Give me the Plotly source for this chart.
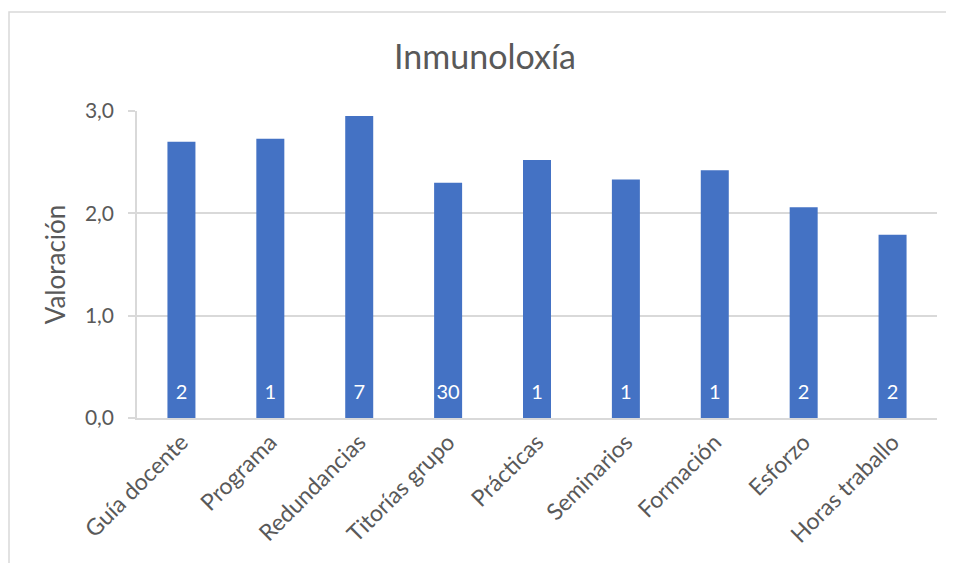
import plotly.graph_objects as go

categories = ["Guía docente", "Programa", "Redundancias", "Titorías grupo", "Prácticas",
              "Seminarios", "Formación", "Esforzo", "Horas traballo"]
valoracion = [2.70, 2.73, 2.95, 2.30, 2.52, 2.33, 2.42, 2.06, 1.79]
respostas = ["2", "1", "7", "30", "1", "1", "1", "2", "2"]
y_ticks = [0, 1, 2, 3]
y_tick_labels = ["0,0", "1,0", "2,0", "3,0"]

FONT = "Lato, Carlito, Calibri, sans-serif"
GRAY = "#595959"
LABEL_Y = 0.235  # vertical placement of the count labels near the bar base

# page body has an 8px margin: figure is drawn 8px right/down
W, H = 946, 555
L, T, R, B = 129, 103, 17, 145

fig = go.Figure()
fig.add_trace(go.Bar(
    x=categories,
    y=valoracion,
    marker=dict(color="#4472C4", line=dict(width=0)),
    hoverinfo="x+y",
))
fig.add_trace(go.Scatter(
    x=categories,
    y=[LABEL_Y] * len(categories),
    text=respostas,
    mode="text",
    textposition="middle center",
    textfont=dict(family=FONT, size=20, color="white"),
    hoverinfo="skip",
))

fig.update_layout(
    width=W, height=H,
    margin=dict(l=L, r=R, t=T, b=B),
    paper_bgcolor="white", plot_bgcolor="white",
    bargap=0.685,
    showlegend=False,
    title=dict(text="Inmunoloxía", x=(485 - 8) / W, xref="container", xanchor="center",
               y=1 - (57 - 8) / H, yanchor="middle",
               font=dict(family=FONT, size=34, color=GRAY)),
    font=dict(family=FONT, color=GRAY),
)

fig.update_yaxes(
    range=[0, 3], tickvals=y_ticks, ticktext=y_tick_labels,
    showgrid=True, gridcolor="#d9d9d9", gridwidth=1.5,
    ticks="outside", ticklen=7, tickcolor="#d9d9d9", tickwidth=1.5,
    showline=True, linecolor="#d9d9d9", linewidth=1.5,
    zeroline=False,
    ticklabelstandoff=10,
    tickfont=dict(family=FONT, size=21, color=GRAY),
    title=dict(text="Valoración", font=dict(family=FONT, size=26, color=GRAY), standoff=12),
)
fig.update_xaxes(
    tickangle=-45,
    tickfont=dict(family=FONT, size=23, color=GRAY),
    showline=True, linecolor="#d9d9d9", linewidth=1.5,
    ticks="", showgrid=False,
)

pw, ph = W - L - R, H - T - B
# outer chart border (figure px -> paper)
fig.add_shape(type="rect", xref="paper", yref="paper",
              x0=(1 - L) / pw, x1=(965 - 8 - L) / pw,
              y0=(H - B - (620 - 8)) / ph, y1=(H - B - (12 - 8)) / ph,
              line=dict(color="#d9d9d9", width=1.5), fillcolor="rgba(0,0,0,0)", layer="below")

fig.write_html("out.html")
